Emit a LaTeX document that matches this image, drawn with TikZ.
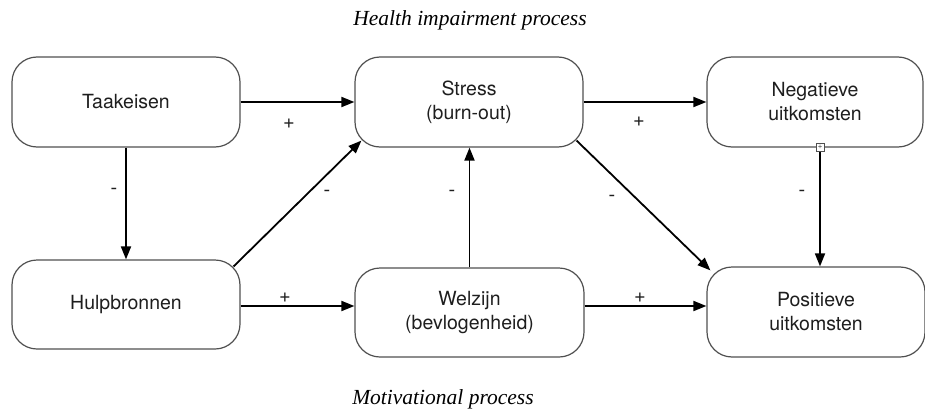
\documentclass[tikz,border=0pt]{standalone}
\usepackage{fontspec}
\setmainfont{Liberation Serif}
\setsansfont{TeX Gyre Heros}
\usetikzlibrary{arrows.meta}
\definecolor{boxgray}{HTML}{505050}
\definecolor{textgray}{HTML}{1E1E1E}
\newcommand{\boxfont}{\sffamily\fontsize{19.5}{24}\selectfont}
\newcommand{\signfont}{\sffamily\fontsize{20}{22}\selectfont}
\newcommand{\titlefont}{\rmfamily\itshape\fontsize{21.5}{24}\selectfont}
\tikzstyle{block}=[draw=boxgray, line width=1.2pt, rounded corners=25pt, minimum height=90pt, align=center, text=textgray, font=\boxfont]
\tikzstyle{link}=[-{Triangle[length=13pt,width=10pt]}, line width=1.8pt]
\tikzstyle{sign}=[font=\signfont, inner sep=0pt, text=textgray]
\tikzstyle{proctitle}=[font=\titlefont, inner sep=0pt]
\pgfmathsetmacro{\cut}{7}

\begin{document}
\begin{tikzpicture}[x=1pt,y=-1pt]
  \useasboundingbox (0,0) rectangle (925,412);
  % titles
  \node[proctitle] (health) at (470,20) {Health impairment process};
  \node[proctitle] (motiv) at (443,399) {Motivational process};
  % blocks
  \node[block, minimum width=228pt] (taak) at (126,102) {Taakeisen};
  \node[block, minimum width=228pt] (stress) at (469,102) {Stress\\(burn-out)};
  \node[block, minimum width=216pt] (neg) at (815,102) {Negatieve\\uitkomsten};
  \node[block, minimum width=228pt, minimum height=89pt] (hulp) at (126,304.5) {Hulpbronnen};
  \node[block, minimum width=229pt, minimum height=89pt] (welz) at (469.5,312.5) {Welzijn\\(bevlogenheid)};
  \node[block, minimum width=218pt] (pos) at (816,312) {Positieve\\uitkomsten};
  % connectors
  \draw[link] (taak.east) -- (taak.east -| stress.west);
  \draw[link] (stress.east) -- (neg.west);
  \draw[link] (taak.south) -- (hulp.north);
  \draw[link] ([shift={(-\cut,\cut)}]hulp.north east) -- ([shift={(\cut,-\cut)}]stress.south west);
  \draw[link] (welz.north) -- (welz.north |- stress.south);
  \draw[link] ([shift={(-\cut,-\cut)}]stress.south east) -- ([shift={(4,4)}]pos.north west);
  \draw[link] ([xshift=5pt]neg.south) -- ([xshift=5pt]neg.south |- pos.north);
  \draw[link] ([yshift=-1.5pt]hulp.east) -- ([yshift=-1.5pt]hulp.east -| welz.west);
  \draw[link] ([yshift=-1.5pt]hulp.east -| welz.east) -- ([yshift=-1.5pt]hulp.east -| pos.west);
  % small marker on the border
  \node[draw=boxgray, fill=white, line width=0.8pt, minimum size=8pt, inner sep=0pt, font=\fontsize{8}{8}\selectfont] (marker) at ([xshift=5pt]neg.south) {+};
  % signs
  \node[sign] (s1) at (289,124) {+};
  \node[sign] (s2) at (639,122) {+};
  \node[sign] (s3) at (114,191) {-};
  \node[sign] (s4) at (327,193) {-};
  \node[sign] (s5) at (452,193) {-};
  \node[sign] (s6) at (612,198) {-};
  \node[sign] (s7) at (802,193) {-};
  \node[sign] (s8) at (285,298) {+};
  \node[sign] (s9) at (640,298) {+};
\end{tikzpicture}
\end{document}
